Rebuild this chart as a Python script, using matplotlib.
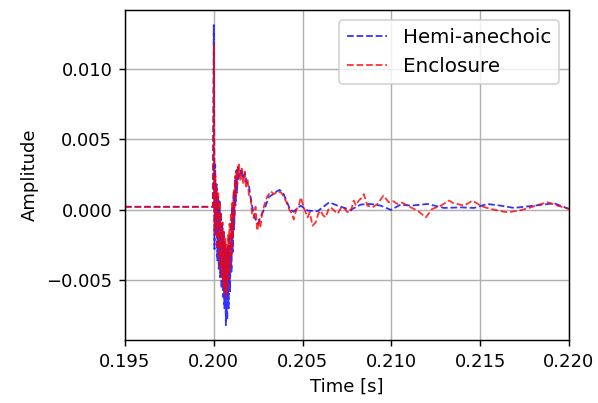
import numpy as np
import matplotlib.pyplot as plt

# time offsets after 0.200 s (in ms) and amplitudes (in units of 1e-3)
hemi_ms = [-5.0, -0.05, 0.00,
           0.04, 0.06, 0.08, 0.10, 0.12, 0.14, 0.16, 0.18, 0.20, 0.22, 0.24, 0.26, 0.28,
           0.30, 0.32, 0.34, 0.36, 0.38, 0.40, 0.42, 0.44, 0.46, 0.48, 0.50, 0.52, 0.54,
           0.56, 0.58, 0.60, 0.62, 0.64, 0.66, 0.68, 0.70, 0.72, 0.74, 0.76, 0.78, 0.80,
           0.82, 0.84, 0.86, 0.88, 0.90, 0.92, 0.94, 0.96, 0.98, 1.00, 1.02, 1.04, 1.06,
           1.08, 1.10, 1.12, 1.14, 1.16, 1.18, 1.20, 1.22, 1.24, 1.26, 1.28, 1.30, 1.32,
           1.34, 1.36, 1.38, 1.40,
           1.45, 1.55, 1.65, 1.75, 1.85, 1.97, 2.10, 2.25, 2.40, 2.50, 2.60, 2.75, 2.90,
           3.10, 3.35, 3.55, 3.70, 3.90, 4.10, 4.30, 4.50, 4.70, 4.90, 5.28, 5.84, 6.50,
           6.97, 7.70, 8.28, 8.84, 9.40, 9.97, 10.53, 11.10, 12.03, 12.97, 13.90, 14.65,
           15.40, 16.16, 16.90, 18.03, 19.16, 20.0]
hemi_amp = [0.2, 0.2, 13.1,
            -2.8, 1.5, 3.2, -0.5, -1.8, 1.2, 1.8, -2.0, -3.6, 0.2, 0.9, -2.5, -4.2,
            -0.8, 0.6, -3.0, -4.8, -1.5, -0.2, -3.8, -5.6, -2.2, -1.0, -4.5, -6.2, -2.8,
            -1.6, -5.2, -7.0, -3.4, -2.3, -6.0, -8.2, -4.0, -2.8, -6.6, -7.8, -3.5, -2.6,
            -6.2, -7.0, -3.0, -1.8, -5.2, -5.8, -2.2, -0.9, -3.8, -4.4, -1.0, 0.2, -2.6,
            -3.0, 0.2, 1.2, -1.4, -1.0, 1.4, 2.2, 0.3, 0.6, 2.4, 2.8, 1.2, 1.6,
            2.6, 3.0, 2.2, 2.5,
            2.4, 2.9, 2.2, 2.6, 1.9, 1.8, 0.6, -0.3, -0.9, -1.0, -0.6, -0.2, 0.2,
            0.9, 1.1, 1.3, 1.4, 1.2, 0.6, 0.0, -0.15, 0.1, 0.28, -0.07, -0.12, 0.52,
            0.28, -0.02, 0.36, 0.40, 0.28, -0.02, 0.36, 0.28, 0.40, 0.12, 0.16, 0.12,
            0.40, 0.28, 0.12, 0.28, 0.45, 0.05]

encl_ms = [-5.0, -0.05, 0.01,
           0.05, 0.07, 0.09, 0.11, 0.13, 0.15, 0.17, 0.19, 0.21, 0.23, 0.25, 0.27, 0.29,
           0.31, 0.33, 0.35, 0.37, 0.39, 0.41, 0.43, 0.45, 0.47, 0.49, 0.51, 0.53, 0.55,
           0.57, 0.59, 0.61, 0.63, 0.65, 0.67, 0.69, 0.71, 0.73, 0.75, 0.77, 0.79, 0.81,
           0.83, 0.85, 0.87, 0.89, 0.91, 0.93, 0.95, 0.97, 0.99, 1.01, 1.03, 1.05, 1.07,
           1.09, 1.11, 1.13, 1.15, 1.17, 1.19, 1.21, 1.23, 1.25, 1.27, 1.29, 1.31, 1.33,
           1.35, 1.37, 1.39, 1.42,
           1.50, 1.58, 1.66, 1.74, 1.82, 1.90, 1.98, 2.08, 2.16, 2.25, 2.35, 2.45, 2.55,
           2.62, 2.72, 2.85, 3.00, 3.20, 3.40, 3.60, 3.80, 3.95, 4.10, 4.25, 4.40, 4.50,
           4.65, 4.80, 4.90, 5.05, 5.28, 5.40, 5.56, 5.74, 5.88, 6.02, 6.15, 6.30, 6.45,
           6.59, 6.80, 6.97, 7.15, 7.32, 7.50, 7.70, 7.88, 8.00, 8.16, 8.30, 8.45, 8.65,
           8.94, 9.22, 9.55, 9.85, 10.10, 10.34, 10.60, 10.90, 11.20, 11.47, 11.70, 11.94,
           12.30, 12.78, 13.25, 13.50, 13.72, 14.10, 14.57, 15.03, 15.30, 15.60, 16.10,
           16.54, 17.20, 17.85, 18.30, 18.79, 19.35, 20.0]
encl_amp = [0.2, 0.2, 11.7,
            -1.8, 1.2, 2.4, -0.2, -1.2, 1.0, 1.5, -1.5, -2.8, 0.4, 1.3, -2.0, -3.5,
            -0.4, 0.6, -2.8, -4.2, -1.0, -0.2, -3.4, -4.8, -1.6, -0.9, -4.0, -5.4, -2.2,
            -1.5, -4.6, -5.9, -2.8, -2.0, -5.0, -6.2, -3.2, -2.4, -5.2, -5.8, -2.6, -1.8,
            -4.6, -5.0, -1.8, -1.0, -3.6, -4.2, -1.0, -0.2, -2.6, -3.2, -0.4, 0.6, -1.6,
            -2.0, 0.6, 1.5, -0.3, -0.6, 1.6, 2.4, 0.8, 0.8, 2.3, 2.9, 1.8, 1.8,
            2.8, 3.1, 2.6, 3.2,
            2.0, 2.9, 1.8, 2.7, 1.5, 2.2, 1.0, 0.8, -0.4, -0.6, 0.2, -1.5, -0.7,
            -1.3, -0.3, 0.35, 0.9, 1.3, 1.1, 1.3, 1.2, 0.9, 0.5, 0.0, -0.3, -0.7,
            0.0, 0.35, 0.87, 0.2, -0.55, -0.2, -1.14, -0.9, -0.3, -0.07, -0.4, -0.55, 0.0,
            0.16, -0.1, -0.3, 0.1, 0.16, -0.15, -0.19, 0.64, 0.3, 0.64, 0.8, 1.1, 0.28,
            0.16, 0.40, 1.0, 0.52, 0.6, 0.40, 0.5, 0.28, 0.1, -0.07, -0.3, -0.55,
            0.05, 0.28, 0.64, 0.45, 0.40, 0.28, 0.64, 0.28, 0.15, 0.05, -0.1,
            -0.19, -0.07, 0.16, 0.35, 0.52, 0.28, 0.05]

t_hemi = 0.2 + np.array(hemi_ms) / 1000
t_encl = 0.2 + np.array(encl_ms) / 1000

fig, ax = plt.subplots(figsize=(598 / 130, 403 / 130), dpi=130)
fig.subplots_adjust(left=0.209, right=0.9515, top=0.975, bottom=0.156)

ax.plot(t_hemi, np.array(hemi_amp) * 1e-3, '--', color='blue', alpha=0.8, linewidth=1,
        label='Hemi-anechoic')
ax.plot(t_encl, np.array(encl_amp) * 1e-3, '--', color='red', alpha=0.8, linewidth=1,
        label='Enclosure')

ax.set_xlim(0.195, 0.220)
ax.set_xlabel('Time [s]')
ax.set_ylabel('Amplitude')
ax.grid(True)
ax.legend(loc='upper right', fontsize=11)

fig.savefig('out.png', dpi=130)
